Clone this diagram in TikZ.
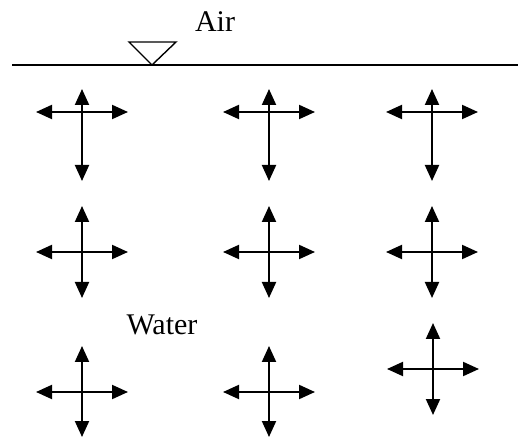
\documentclass[tikz,border=0pt]{standalone}
\usepackage{fontspec}
\setmainfont{Liberation Serif}
\usetikzlibrary{arrows.meta}

\tikzset{
  flowarrow/.style={line width=1pt,{Triangle[length=8pt,width=7pt]}-{Triangle[length=8pt,width=7pt]}},
  surface/.style={line width=0.7pt},
  label/.style={font=\fontsize{15}{18}\selectfont, anchor=base}
}

\begin{document}
\begin{tikzpicture}[x=0.5pt,y=-0.5pt]
  \useasboundingbox (0,0) rectangle (518,437);
  % free surface and level mark
  \draw[surface] (12,65) -- (518,65);
  \draw[surface] (152,65) -- (129,42) -- (176,42) -- cycle;
  \node[label] (air) at (215,32) {Air};
  \node[label] (water) at (162,335) {Water};
  % crosses: centre x, centre y, top, bottom
  \foreach \cx/\cy/\top/\bot in {82/112/89/181, 269/112/89/181, 432/112/89/181,
                                  82/252/206/298, 269/252/206/298, 432/252/206/298,
                                  82/392/346/437, 269/392/346/437, 433/369/323/415} {
    \draw[flowarrow] (\cx-46,\cy) -- (\cx+46,\cy);
    \draw[flowarrow] (\cx,\top) -- (\cx,\bot);
  }
\end{tikzpicture}
\end{document}
